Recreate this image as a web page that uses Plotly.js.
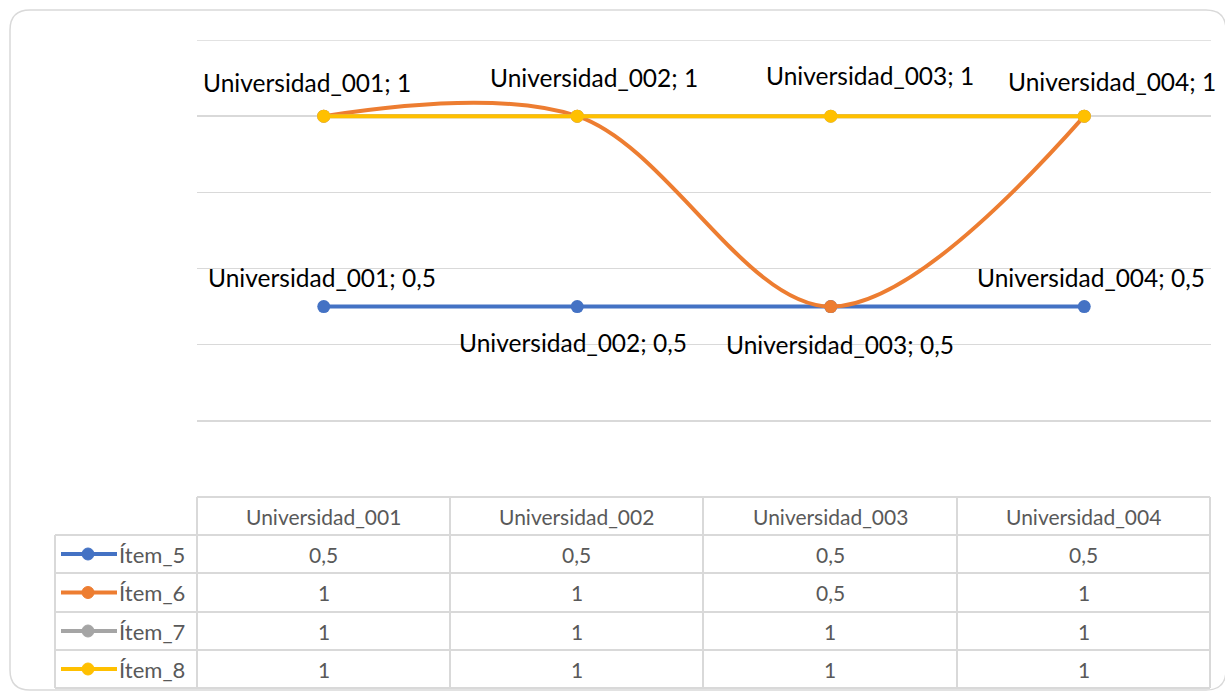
<!DOCTYPE html>
<html>
<head>
<meta charset="utf-8">
<script src="https://cdn.plot.ly/plotly-3.0.1.min.js"></script>
<style>html,body{margin:0;padding:0;background:#fff;}#chart{width:1225px;height:698px;}</style>
</head>
<body>
<div id="chart"></div>
<script>
// ---- data ----
const categories = ['Universidad_001', 'Universidad_002', 'Universidad_003', 'Universidad_004'];
const seriesNames = ['Ítem_5', 'Ítem_6', 'Ítem_7', 'Ítem_8'];
const item5 = [0.5, 0.5, 0.5, 0.5];
const item6 = [1, 1, 0.5, 1];
const item7 = [1, 1, 1, 1];
const item8 = [1, 1, 1, 1];
const yAxisMax = 1.2;

// ---- styles ----
const seriesValues = [item5, item6, item7, item8];
const colors = ['#4472C4', '#ED7D31', '#A5A5A5', '#FFC000'];
const shapesLine = ['linear', 'spline', 'linear', 'linear'];
const FONT = 'Lato, "Open Sans", sans-serif';
// label pixel offsets (xshift, yshift) for labelled series
const labelOffsetsItem8 = [[-17, 34], [17, 39], [39, 41], [28, 35]];
const labelOffsetsItem5 = [[-2, 29], [-4, -36], [9, -38], [7, 29]];

const W = 1225, H = 698;
const L = 197, R = 1211, T = 40, B = 497;
const px = x => (x - L) / (R - L);
const py = y => (B - y) / (B - T);
const fmt = v => String(v).replace('.', ',');

const traces = seriesValues.map((vals, i) => ({
  type: 'scatter',
  mode: 'lines+markers',
  name: seriesNames[i],
  x: categories,
  y: vals,
  line: {color: colors[i], width: 4, shape: shapesLine[i], smoothing: 1},
  marker: {color: colors[i], size: 13},
  cliponaxis: false,
  hoverinfo: 'skip'
}));

const annotations = [];
function addLabels(vals, offs) {
  vals.forEach((v, j) => {
    annotations.push({
      x: categories[j], y: v, xref: 'x', yref: 'y',
      text: categories[j] + '; ' + fmt(v),
      showarrow: false, xanchor: 'center', yanchor: 'middle',
      xshift: offs[j][0], yshift: offs[j][1],
      font: {family: FONT, size: 24.5, color: '#000000'}
    });
  });
}
addLabels(item8, labelOffsetsItem8);
addLabels(item5, labelOffsetsItem5);

// ---- data table below the plot ----
const colEdges = [197, 450, 703, 957, 1210];
const rowEdges = [497, 535, 573, 612, 650, 688];
const shapes = [];
const gridCol = '#d9d9d9';
// top gridline at axis maximum (Plotly omits it at the edge)
shapes.push({type: 'line', xref: 'paper', yref: 'y', x0: 0, x1: 1,
  y0: yAxisMax, y1: yAxisMax, line: {color: gridCol, width: 1.5}, layer: 'below'});
// outer rounded border
(function(){
  const x0 = 10, y0 = 10, x1 = 1226, y1 = 690, r = 20;
  const p = [
    'M', px(x0), py(y0 + r),
    'Q', px(x0), py(y0), px(x0 + r), py(y0),
    'L', px(x1 - r), py(y0),
    'Q', px(x1), py(y0), px(x1), py(y0 + r),
    'L', px(x1), py(y1 - r),
    'Q', px(x1), py(y1), px(x1 - r), py(y1),
    'L', px(x0 + r), py(y1),
    'Q', px(x0), py(y1), px(x0), py(y1 - r), 'Z'
  ].join(' ');
  shapes.push({type: 'path', xref: 'paper', yref: 'paper', path: p,
    line: {color: gridCol, width: 1.5}, layer: 'below'});
})();
// horizontal lines
rowEdges.forEach((y, k) => {
  shapes.push({type: 'line', xref: 'paper', yref: 'paper',
    x0: px(k === 0 ? colEdges[0] : 55), x1: px(colEdges[4]), y0: py(y), y1: py(y),
    line: {color: gridCol, width: 2}});
});
// vertical lines
colEdges.forEach(x => {
  shapes.push({type: 'line', xref: 'paper', yref: 'paper',
    x0: px(x), x1: px(x), y0: py(rowEdges[0]), y1: py(rowEdges[5]),
    line: {color: gridCol, width: 2}});
});
shapes.push({type: 'line', xref: 'paper', yref: 'paper',
  x0: px(55), x1: px(55), y0: py(rowEdges[1]), y1: py(rowEdges[5]),
  line: {color: gridCol, width: 2}});

const tableFont = {family: FONT, size: 21, color: '#595959'};
categories.forEach((c, j) => {
  annotations.push({xref: 'paper', yref: 'paper',
    x: px((colEdges[j] + colEdges[j + 1]) / 2), y: py((rowEdges[0] + rowEdges[1]) / 2),
    text: c, showarrow: false, xanchor: 'center', yanchor: 'middle', font: tableFont});
});
seriesValues.forEach((vals, i) => {
  const yc = (rowEdges[i + 1] + rowEdges[i + 2]) / 2;
  vals.forEach((v, j) => {
    annotations.push({xref: 'paper', yref: 'paper',
      x: px((colEdges[j] + colEdges[j + 1]) / 2), y: py(yc),
      text: fmt(v), showarrow: false, xanchor: 'center', yanchor: 'middle', font: tableFont});
  });
  // legend key
  shapes.push({type: 'line', xref: 'paper', yref: 'paper',
    x0: px(61), x1: px(117), y0: py(yc), y1: py(yc),
    line: {color: colors[i], width: 4}});
  shapes.push({type: 'circle', xref: 'paper', yref: 'paper',
    x0: px(82), x1: px(94), y0: py(yc - 6), y1: py(yc + 6),
    fillcolor: colors[i], line: {color: colors[i], width: 1}});
  annotations.push({xref: 'paper', yref: 'paper',
    x: px(117), y: py(yc), text: seriesNames[i], showarrow: false,
    xanchor: 'left', yanchor: 'middle', font: {family: FONT, size: 22, color: '#595959'}});
});

const layout = {
  width: W, height: H,
  margin: {l: L, r: W - R, t: T, b: H - B, pad: 0},
  paper_bgcolor: '#ffffff', plot_bgcolor: '#ffffff',
  showlegend: false,
  xaxis: {type: 'category', range: [-0.5, 3.5], showgrid: false, zeroline: false,
    showticklabels: false, ticks: '', showline: false, fixedrange: true},
  yaxis: {range: [0, yAxisMax], tick0: 0, dtick: 0.2, showgrid: true,
    gridcolor: gridCol, gridwidth: 1.5, zeroline: false, showticklabels: false,
    ticks: '', showline: false, fixedrange: true},
  shapes: shapes,
  annotations: annotations,
  font: {family: FONT}
};

Plotly.newPlot('chart', traces, layout, {displayModeBar: false, staticPlot: true});
</script>
</body>
</html>
